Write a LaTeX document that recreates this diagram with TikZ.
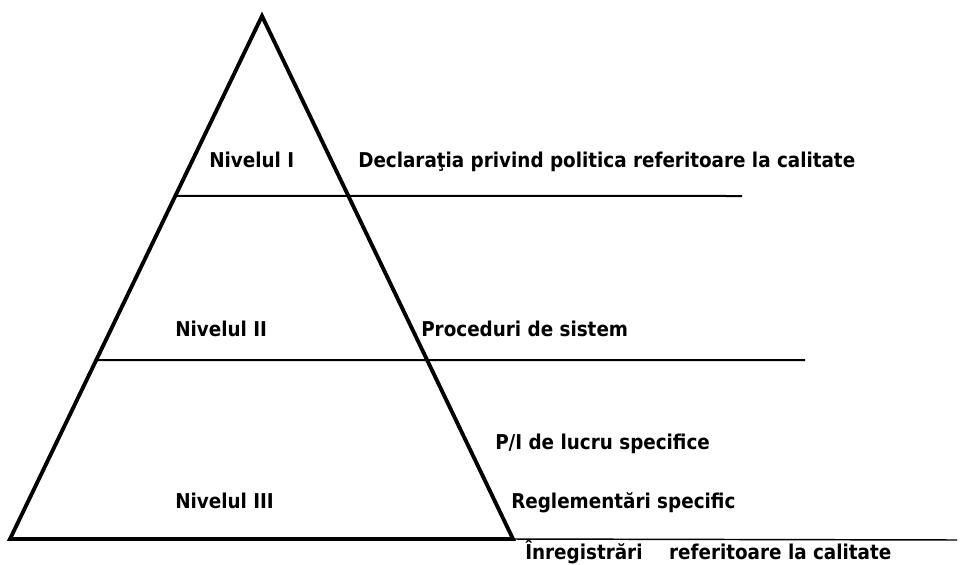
\documentclass[tikz,border=0pt]{standalone}
\usepackage{fontspec}
\setmainfont{DejaVu Sans Condensed}
\usepackage{tikz}
\usetikzlibrary{positioning,calc}
\tikzset{
  side/.style={ draw, line width=2.9pt, line join=miter },
  level/.style={ draw, line width=1.5pt },
  lbl/.style={ anchor=base west, inner sep=0pt, font=\bfseries\fontsize{15.3}{18}\selectfont }
}

\begin{document}
\begin{tikzpicture}[x=0.75pt, y=-0.75pt]
      \useasboundingbox (0,0) rectangle (960,564);

      \coordinate (apex) at (262,16);
      \coordinate (bl) at (10,539);
      \coordinate (br) at (513,539);
      \coordinate (end1) at (742,196);
      \coordinate (end2) at (805,360);
      \coordinate (end3) at (957,540);

      % levels
      \draw[level] ($(apex)!0.344!(bl)$) -- (end1);
      \draw[level] ($(apex)!0.658!(bl)$) -- (end2);
      \draw[line width=1.1pt] (br) -- (end3);

      % pyramid
      \draw[side] (apex) -- (bl) -- (br) -- cycle;

      \node[lbl] (niv1) at (209,167) {Nivelul I};
      \node[lbl] (decl) at (358,167) {Declaraţia privind politica referitoare la calitate};

      \node[lbl] (niv2) at (175,336) {Nivelul II};
      \node[lbl] (proc) at (421,336) {Proceduri de sistem};

      \node[lbl] (pi) at (495,449) {P/I de lucru specifice};
      \node[lbl] (niv3) at (175,508) {Nivelul III};
      \node[lbl] (regl) at (511,508) {Reglementări specific};

      \node[lbl] (inreg) at (525,559) {Înregistrări\hspace{1.3em}referitoare la calitate};
    \end{tikzpicture}
\end{document}
